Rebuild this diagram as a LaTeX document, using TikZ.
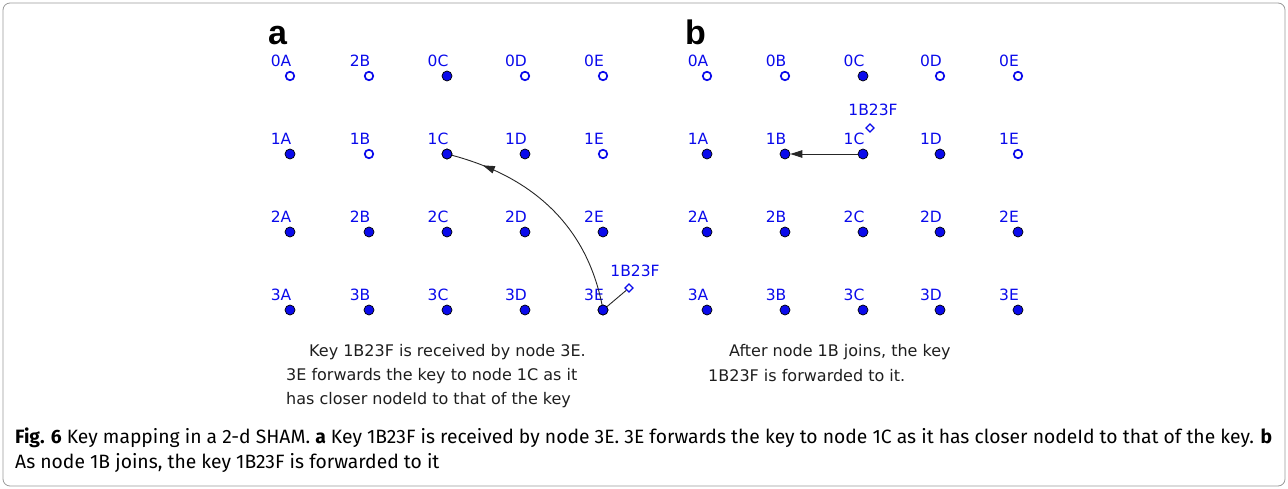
\documentclass[tikz,border=0pt]{standalone}
\usepackage{fontspec}
\setmainfont{DejaVu Sans}
\newfontfamily\panelfont{Liberation Sans}
\newfontfamily\capfont{Fira Sans}
\usetikzlibrary{arrows.meta,decorations.markings,shapes.geometric}
\definecolor{nodeblue}{RGB}{10,10,235}
\definecolor{txtgray}{RGB}{30,30,30}
\begin{document}
\begin{tikzpicture}[x=1pt,y=-1pt,
  fdot/.style={circle,draw=black,fill=nodeblue,line width=0.7pt,inner sep=0pt,minimum size=10pt},
  odot/.style={circle,draw=nodeblue,fill=white,line width=1.7pt,inner sep=0pt,minimum size=8.5pt},
  lbl/.style={text=nodeblue,font=\fontsize{15.5}{15.5}\selectfont,inner sep=0pt},
  keydia/.style={diamond,draw=nodeblue,fill=white,line width=1.3pt,inner sep=0pt,minimum size=8.5pt},
  note/.style={text=txtgray,font=\fontsize{16}{18}\selectfont,inner sep=0pt,anchor=west},
  panel/.style={font=\panelfont\bfseries\fontsize{34}{34}\selectfont,inner sep=0pt,anchor=base west},
  capt/.style={inner sep=0pt,anchor=west,font=\capfont\fontsize{19.3}{22}\selectfont},
  link/.style={line width=0.9pt,draw=black!85}]
\useasboundingbox (0,0) rectangle (1288,489);
\draw[black!40,line width=0.8pt,rounded corners=7pt] (3,3) rectangle (1285,486);

% panel letters
\node[panel] (pa) at (268,45) {a};
\node[panel] (pb) at (685,45) {b};

% grid of panel a
\foreach \name/\x/\y/\st/\txt in {
  a00/290/76/odot/0A, a01/369/76/odot/2B, a02/447/76/fdot/0C, a03/525/76/odot/0D, a04/603/76/odot/0E,
  a10/290/154/fdot/1A, a11/369/154/odot/1B, a12/447/154/fdot/1C, a13/525/154/fdot/1D, a14/603/154/odot/1E,
  a20/290/232/fdot/2A, a21/369/232/fdot/2B, a22/447/232/fdot/2C, a23/525/232/fdot/2D, a24/603/232/fdot/2E,
  a30/290/310/fdot/3A, a31/369/310/fdot/3B, a32/447/310/fdot/3C, a33/525/310/fdot/3D, a34/603/310/fdot/3E}
{
  \node[\st] (\name) at (\x,\y) {};
  \node[lbl] (\name-l) at (\x-9,\y-15) {\txt};
}

% grid of panel b
\foreach \name/\x/\y/\st/\txt in {
  b00/707/76/odot/0A, b01/785/76/odot/0B, b02/863/76/fdot/0C, b03/940/76/odot/0D, b04/1018/76/odot/0E,
  b10/707/154/fdot/1A, b11/785/154/fdot/1B, b12/863/154/fdot/1C, b13/940/154/fdot/1D, b14/1018/154/odot/1E,
  b20/707/232/fdot/2A, b21/785/232/fdot/2B, b22/863/232/fdot/2C, b23/940/232/fdot/2D, b24/1018/232/fdot/2E,
  b30/707/310/fdot/3A, b31/785/310/fdot/3B, b32/863/310/fdot/3C, b33/940/310/fdot/3D, b34/1018/310/fdot/3E}
{
  \node[\st] (\name) at (\x,\y) {};
  \node[lbl] (\name-l) at (\x-9,\y-15) {\txt};
}

% key in panel a: received by 3E and forwarded to 1C
\node[keydia] (ka) at (629,288) {};
\node[lbl] (ka-l) at (635,271) {1B23F};
\draw[link] (a34) -- (ka);
\draw[link,postaction={decorate},
  decoration={markings,mark=at position 0.84 with {\arrow{Triangle[length=12pt,width=7.5pt]}}}]
  (a34.center) to[out=100,in=-14] (a12.center);
\node[fdot] at (a34) {};
\node[fdot] at (a12) {};

% key in panel b: forwarded from 1C to the new node 1B
\node[keydia] (kb) at (870,128) {};
\node[lbl] (kb-l) at (873,110) {1B23F};
\draw[link,-{Triangle[length=12pt,width=7.5pt]}] (b12) -- (b11);

% notes
\node[note] (na1) at (309,352) {Key 1B23F is received by node 3E.};
\node[note] (na2) at (286,376) {3E forwards the key to node 1C as it};
\node[note] (na3) at (286,400) {has closer nodeId to that of the key};
\node[note] (nb1) at (729,352) {After node 1B joins, the key};
\node[note] (nb2) at (708,376) {1B23F is forwarded to it.};

% caption
\node[capt] (cap1) at (15,438)
  {\textbf{Fig. 6} Key mapping in a 2-d SHAM. \textbf{a} Key 1B23F is received by node 3E. 3E forwards the key to node 1C as it has closer nodeId to that of the key. \textbf{b}};
\node[capt] (cap2) at (15,463)
  {As node 1B joins, the key 1B23F is forwarded to it};
\end{tikzpicture}
\end{document}
